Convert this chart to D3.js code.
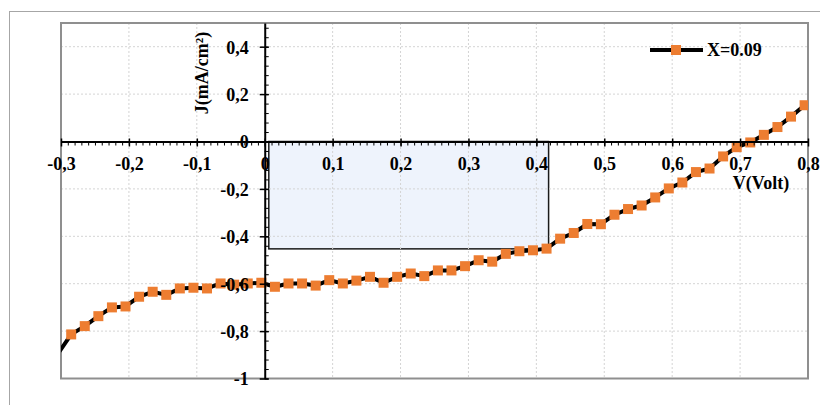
<!DOCTYPE html>
<html>
<head>
<meta charset="utf-8">
<script src="https://cdn.jsdelivr.net/npm/d3@7"></script>
<style>
  html, body { margin: 0; padding: 0; background: #fff; }
  svg text { font-family: "Liberation Serif", "Times New Roman", serif; font-weight: bold; fill: #000; }
</style>
</head>
<body>
<svg id="chart" width="820" height="405"></svg>
<script>
// J–V characteristic, X = 0.09
const voltage = [-0.305, -0.285, -0.265, -0.245, -0.225, -0.205, -0.185, -0.165, -0.145, -0.125,
  -0.105, -0.085, -0.065, -0.045, -0.025, -0.005, 0.015, 0.035, 0.055, 0.075,
  0.095, 0.115, 0.135, 0.155, 0.175, 0.195, 0.215, 0.235, 0.255, 0.275,
  0.295, 0.315, 0.335, 0.355, 0.375, 0.395, 0.415, 0.435, 0.455, 0.475,
  0.495, 0.515, 0.535, 0.555, 0.575, 0.595, 0.615, 0.635, 0.655, 0.675,
  0.695, 0.715, 0.735, 0.755, 0.775, 0.795];
const current = [-0.897, -0.814, -0.779, -0.737, -0.700, -0.696, -0.655, -0.634, -0.647, -0.620,
  -0.617, -0.620, -0.599, -0.604, -0.599, -0.596, -0.613, -0.599, -0.599, -0.608,
  -0.585, -0.599, -0.587, -0.571, -0.596, -0.571, -0.557, -0.568, -0.544, -0.544,
  -0.526, -0.501, -0.507, -0.474, -0.463, -0.459, -0.452, -0.410, -0.386, -0.348,
  -0.349, -0.309, -0.285, -0.270, -0.236, -0.198, -0.173, -0.129, -0.114, -0.063,
  -0.024, -0.004, 0.028, 0.061, 0.105, 0.153];

const seriesName = "X=0.09";

// Maximum power rectangle corners (V, J)
const powerRectV = [0.006, 0.418];
const powerRectJ = [0, -0.453];

const xMajorTicks = [-0.3, -0.2, -0.1, 0, 0.1, 0.2, 0.3, 0.4, 0.5, 0.6, 0.7, 0.8];
const xTickLabels = ["-0,3", "-0,2", "-0,1", "0", "0,1", "0,2", "0,3", "0,4", "0,5", "0,6", "0,7", "0,8"];
const yMajorTicks = [-1, -0.8, -0.6, -0.4, -0.2, 0, 0.2, 0.4];
const yTickLabels = ["-1", "-0,8", "-0,6", "-0,4", "-0,2", "0", "0,2", "0,4"];
const xMinorStep = 0.01;
const yMinorStep = 0.04;

const svg = d3.select("#chart");
const plot = { left: 61, right: 808, top: 23, bottom: 378.5 };

const x = d3.scaleLinear().domain([-0.3, 0.8]).range([plot.left, plot.right]);
const y = d3.scaleLinear().domain([-1, 0.5]).range([plot.bottom, plot.top]);

const xMinor = d3.range(-0.3, 0.8001, xMinorStep).map(v => +v.toFixed(3));
const yMinor = d3.range(-1, 0.5001, yMinorStep).map(v => +v.toFixed(3));

const labelSize = "18px";

// outer chart frame
svg.append("rect")
  .attr("x", 9.5).attr("y", 11.5).attr("width", 830).attr("height", 420)
  .attr("fill", "none").attr("stroke", "#a6a6a6").attr("stroke-width", 1);

// power rectangle
svg.append("rect")
  .attr("x", x(powerRectV[0])).attr("y", y(powerRectJ[0]))
  .attr("width", x(powerRectV[1]) - x(powerRectV[0]))
  .attr("height", y(powerRectJ[1]) - y(powerRectJ[0]))
  .attr("fill", "#eef3fc").attr("stroke", "#1a1a1a").attr("stroke-width", 1.5);

// dotted grid
const grid = svg.append("g").attr("stroke", "#d4d4d4").attr("stroke-width", 1).attr("stroke-dasharray", "2,2");
grid.selectAll("line.v").data(xMajorTicks.filter(v => v !== -0.3 && v !== 0.8 && v !== 0))
  .join("line").attr("class", "v")
  .attr("x1", d => x(d)).attr("x2", d => x(d)).attr("y1", plot.top).attr("y2", plot.bottom);
grid.selectAll("line.h").data(yMajorTicks.filter(v => v !== -1 && v !== 0))
  .join("line").attr("class", "h")
  .attr("x1", plot.left).attr("x2", plot.right).attr("y1", d => y(d)).attr("y2", d => y(d));

// plot area border
svg.append("rect")
  .attr("x", plot.left).attr("y", plot.top)
  .attr("width", plot.right - plot.left).attr("height", plot.bottom - plot.top)
  .attr("fill", "none").attr("stroke", "#8f8f8f").attr("stroke-width", 2);

// series
svg.append("clipPath").attr("id", "plotClip")
  .append("rect").attr("x", plot.left).attr("y", plot.top)
  .attr("width", plot.right - plot.left).attr("height", plot.bottom - plot.top);

const points = voltage.map((v, i) => ({ v, j: current[i] }));
const series = svg.append("g").attr("clip-path", "url(#plotClip)");
series.append("path")
  .datum(points)
  .attr("d", d3.line().x(d => x(d.v)).y(d => y(d.j)))
  .attr("fill", "none").attr("stroke", "#000").attr("stroke-width", 4)
  .attr("stroke-linejoin", "round");
const ms = 10;
// markers only for points inside the voltage range shown
series.selectAll("rect.m").data(points.filter(d => d.v >= x.domain()[0])).join("rect").attr("class", "m")
  .attr("x", d => x(d.v) - ms / 2).attr("y", d => y(d.j) - ms / 2)
  .attr("width", ms).attr("height", ms)
  .attr("fill", "#ed7d31");

// x axis through J = 0
const xAxisG = svg.append("g").attr("transform", `translate(0,${y(0)})`);
xAxisG.append("g")
  .call(d3.axisBottom(x).tickValues(xMinor).tickSize(4).tickSizeOuter(0).tickFormat(""))
  .call(g => g.select(".domain").remove())
  .call(g => g.selectAll("line").attr("stroke", "#000").attr("stroke-width", 1));
xAxisG.append("g")
  .call(d3.axisBottom(x).tickValues(xMajorTicks).tickSize(5).tickSizeOuter(0)
    .tickFormat((d, i) => xTickLabels[i]))
  .call(g => g.select(".domain").attr("stroke", "#000").attr("stroke-width", 2))
  .call(g => g.selectAll(".tick line").attr("stroke", "#000").attr("stroke-width", 1.5).attr("y1", -3))
  .call(g => g.selectAll(".tick text").attr("y", 28.5).attr("dy", 0)
    .style("font-size", labelSize).style("font-family", null));

// y axis through V = 0
const yAxisG = svg.append("g").attr("transform", `translate(${x(0)},0)`);
yAxisG.append("g")
  .call(d3.axisRight(y).tickValues(yMinor).tickSize(4).tickSizeOuter(0).tickFormat(""))
  .call(g => g.select(".domain").remove())
  .call(g => g.selectAll("line").attr("stroke", "#000").attr("stroke-width", 1));
yAxisG.append("g")
  .call(d3.axisLeft(y).tickValues(yMajorTicks).tickSize(5).tickSizeOuter(0)
    .tickFormat((d, i) => yTickLabels[i]))
  .call(g => g.select(".domain").attr("stroke", "#000").attr("stroke-width", 2))
  .call(g => g.selectAll(".tick line").attr("stroke", "#000").attr("stroke-width", 1.5).attr("x2", 4).attr("x1", -5))
  .call(g => g.selectAll(".tick text").attr("x", -16).attr("dy", "0.35em")
    .style("font-size", labelSize).style("font-family", null));

// axis titles
svg.append("text")
  .attr("transform", "translate(208,73) rotate(-90)")
  .attr("text-anchor", "middle")
  .style("font-size", labelSize)
  .text("J(mA/cm²)");
svg.append("text")
  .attr("x", 761).attr("y", 189)
  .attr("text-anchor", "middle")
  .style("font-size", labelSize)
  .text("V(Volt)");

// legend
const legend = svg.append("g").attr("transform", "translate(650,50)");
legend.append("line").attr("x1", 0).attr("x2", 53).attr("y1", 0).attr("y2", 0)
  .attr("stroke", "#000").attr("stroke-width", 4);
legend.append("rect").attr("x", 26 - ms / 2).attr("y", -ms / 2).attr("width", ms).attr("height", ms)
  .attr("fill", "#ed7d31");
legend.append("text").attr("x", 57).attr("y", 6).style("font-size", labelSize).text(seriesName);
</script>
</body>
</html>
